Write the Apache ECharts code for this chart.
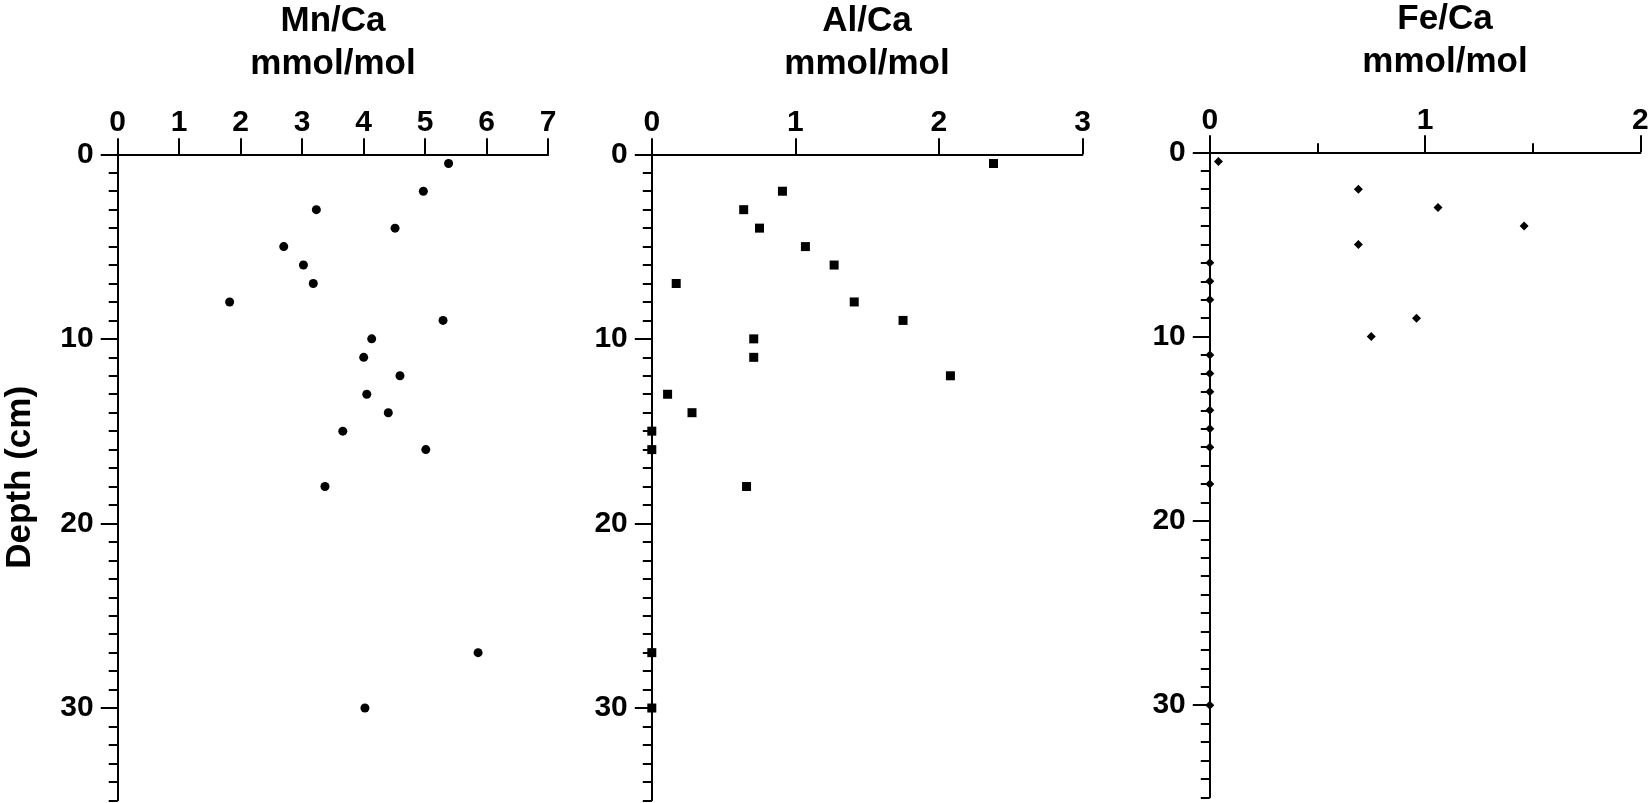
<!DOCTYPE html>
<html>
<head>
<meta charset="utf-8">
<script src="https://cdn.jsdelivr.net/npm/echarts@6/dist/echarts.min.js"></script>
<style>
html,body{margin:0;padding:0;background:#fff;}
#chart{width:1650px;height:803px;}
</style>
</head>
<body>
<div id="chart"></div>
<script>
// ---- data (depth in cm, values in mmol/mol) ----
var mnDepth = [0.5, 2, 3, 4, 5, 6, 7, 8, 9, 10, 11, 12, 13, 14, 15, 16, 18, 27, 30];
var mnVal   = [5.38, 4.97, 3.23, 4.51, 2.70, 3.02, 3.18, 1.82, 5.29, 4.13, 4.00, 4.59, 4.05, 4.40, 3.66, 5.01, 3.37, 5.86, 4.02];
var alDepth = [0.5, 2, 3, 4, 5, 6, 7, 8, 9, 10, 11, 12, 13, 14, 15, 16, 18, 27, 30];
var alVal   = [2.38, 0.91, 0.64, 0.75, 1.07, 1.27, 0.17, 1.41, 1.75, 0.71, 0.71, 2.08, 0.11, 0.28, 0, 0, 0.66, 0, 0];
var feDepth = [0.5, 2, 3, 4, 5, 6, 7, 8, 9, 10, 11, 12, 13, 14, 15, 16, 18, 30];
var feVal   = [0.04, 0.69, 1.06, 1.46, 0.69, 0, 0, 0, 0.96, 0.75, 0, 0, 0, 0, 0, 0, 0, 0];
var depthLabels = [0, 10, 20, 30];
var titles = ['Mn/Ca\nmmol/mol', 'Al/Ca\nmmol/mol', 'Fe/Ca\nmmol/mol'];
var yName = 'Depth (cm)';

function pairs(xs, ys) { return xs.map(function (v, i) { return [v, ys[i]]; }); }

var FONT = "'Liberation Sans', Arial, sans-serif";
var black = '#000';

var grids = [
  {left: 117.7, top: 154.3, width: 430.5, height: 646},
  {left: 651.8, top: 154.3, width: 430.7, height: 646},
  {left: 1209.8, top: 152.3, width: 430.6, height: 645}
];
grids.forEach(function (g) { g.containLabel = false; g.outerBoundsMode = 'none'; });

function xAxis(i, max, tickLen, minor) {
  return {
    gridIndex: i, type: 'value', position: 'top', min: 0, max: max, interval: 1,
    axisLine: {show: true, onZero: false, lineStyle: {color: black, width: 2}},
    axisTick: {show: true, length: tickLen, lineStyle: {color: black, width: 2}},
    minorTick: minor ? {show: true, splitNumber: 2, length: 9, lineStyle: {color: black, width: 2}} : {show: false},
    axisLabel: {show: true, margin: 17, color: black, fontSize: 30, fontWeight: 'bold', fontFamily: FONT},
    splitLine: {show: false}
  };
}
function yAxisMinor(i) {
  return {
    gridIndex: i, type: 'value', inverse: true, min: 0, max: 35, interval: 1, position: 'left',
    axisLine: {show: true, onZero: false, lineStyle: {color: black, width: 2}},
    axisTick: {show: true, length: 9, lineStyle: {color: black, width: 2}},
    axisLabel: {show: false},
    splitLine: {show: false}
  };
}
function yAxisMajor(i, withName) {
  var ax = {
    gridIndex: i, type: 'value', inverse: true, min: 0, max: 35, interval: 10, position: 'left',
    axisLine: {show: false},
    axisTick: {show: true, length: 17, customValues: depthLabels, lineStyle: {color: black, width: 2}},
    axisLabel: {show: true, customValues: depthLabels, margin: 24, color: black, fontSize: 30, fontWeight: 'bold', fontFamily: FONT},
    splitLine: {show: false}
  };
  if (withName) {
    ax.name = yName;
    ax.nameLocation = 'middle';
    ax.nameRotate = 90;
    ax.nameGap = 80;
    ax.nameTextStyle = {color: black, fontSize: 35, fontWeight: 'bold', fontFamily: FONT};
  }
  return ax;
}

var titleX = [333, 867, 1445];
var titleY = [0, 0, -2];
var graphics = titles.map(function (t, i) {
  return {
    type: 'text', x: titleX[i], y: titleY[i], z: 10,
    style: {text: t, fill: black, fontSize: 35, fontWeight: 'bold', fontFamily: FONT,
            lineHeight: 43, align: 'center', verticalAlign: 'top'}
  };
});

var option = {
  backgroundColor: '#fff',
  animation: false,
  graphic: graphics,
  grid: grids,
  xAxis: [xAxis(0, 7, 16, false), xAxis(1, 3, 16, false), xAxis(2, 2, 17, true)],
  yAxis: [yAxisMinor(0), yAxisMajor(0, true), yAxisMinor(1), yAxisMajor(1, false), yAxisMinor(2), yAxisMajor(2, false)],
  series: [
    {type: 'scatter', xAxisIndex: 0, yAxisIndex: 0, symbol: 'circle', symbolSize: 9, clip: false,
     itemStyle: {color: black, opacity: 1}, data: pairs(mnVal, mnDepth)},
    {type: 'scatter', xAxisIndex: 1, yAxisIndex: 2, symbol: 'rect', symbolSize: 9, clip: false,
     itemStyle: {color: black, opacity: 1}, data: pairs(alVal, alDepth)},
    {type: 'scatter', xAxisIndex: 2, yAxisIndex: 4, symbol: 'diamond', symbolSize: 9, clip: false,
     itemStyle: {color: black, opacity: 1}, data: pairs(feVal, feDepth)}
  ]
};

var chart = echarts.init(document.getElementById('chart'), null, {renderer: 'canvas'});
chart.setOption(option);
</script>
</body>
</html>
